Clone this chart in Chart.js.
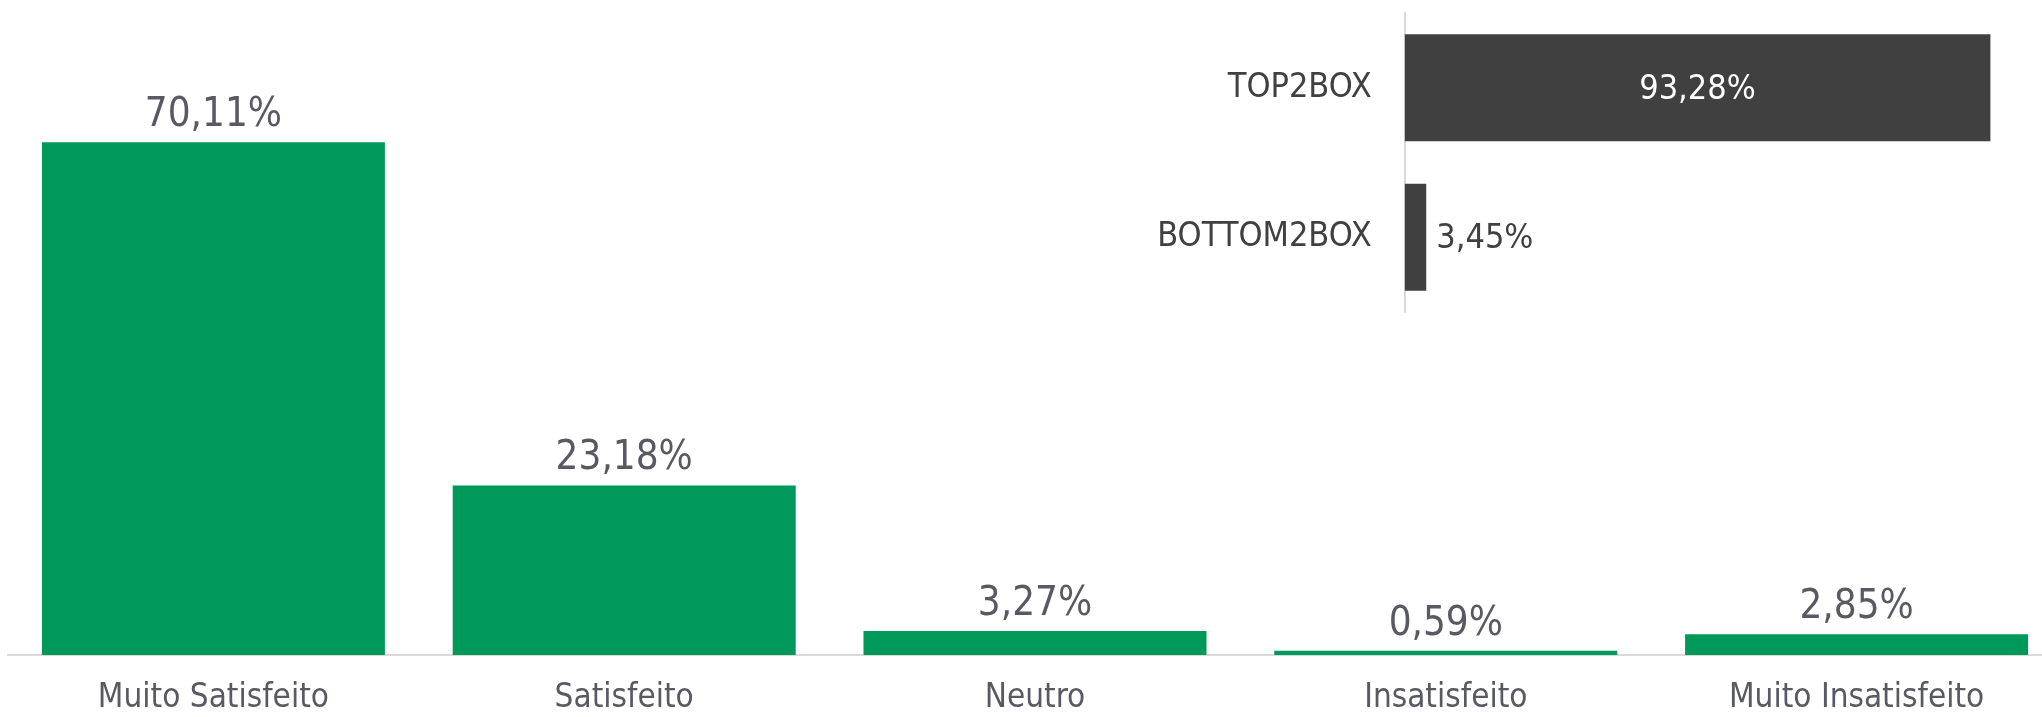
<!DOCTYPE html>
<html>
<head>
<meta charset="utf-8">
<script src="https://cdn.jsdelivr.net/npm/chart.js@4/dist/chart.umd.min.js"></script>
<style>
  html, body { margin: 0; padding: 0; background: #fff; overflow: hidden; }
  #wrap { position: relative; width: 2042px; height: 717px; overflow: hidden; }
  #mainChart { position: absolute; left: 0; top: 0; }
  #boxChart { position: absolute; left: 1100px; top: 0; }
</style>
</head>
<body>
<div id="wrap">
  <canvas id="mainChart" width="2064" height="717"></canvas>
  <canvas id="boxChart" width="942" height="330"></canvas>
</div>
<script>
const categories = ["Muito Satisfeito", "Satisfeito", "Neutro", "Insatisfeito", "Muito Insatisfeito"];
const shares = [70.11, 23.18, 3.27, 0.59, 2.85];

const boxLabels = ["TOP2BOX", "BOTTOM2BOX"];
const boxShares = [93.28, 3.45];

const FONT = "'DejaVu Sans Condensed', 'Liberation Sans Narrow', 'DejaVu Sans', sans-serif";
const greyText = "#595964";
const darkText = "#404040";

function formatPercent(value) {
  return value.toFixed(2).replace(".", ",") + "%";
}

// labels above the columns
const columnLabels = {
  id: "columnLabels",
  afterDatasetsDraw(chart) {
    const { ctx } = chart;
    const meta = chart.getDatasetMeta(0);
    ctx.save();
    ctx.font = "40px " + FONT;
    ctx.fillStyle = greyText;
    ctx.textAlign = "center";
    ctx.textBaseline = "alphabetic";
    meta.data.forEach((bar, i) => {
      ctx.fillText(formatPercent(shares[i]), bar.x, bar.y - 16);
    });
    ctx.restore();
  },
};

// labels for the TOP2BOX / BOTTOM2BOX bars
const boxValueLabels = {
  id: "boxValueLabels",
  afterDatasetsDraw(chart) {
    const { ctx } = chart;
    const meta = chart.getDatasetMeta(0);
    ctx.save();
    ctx.font = "34px " + FONT;
    ctx.textBaseline = "middle";
    meta.data.forEach((bar, i) => {
      const text = formatPercent(boxShares[i]);
      const barWidth = bar.x - bar.base;
      if (ctx.measureText(text).width + 20 < barWidth) {
        ctx.fillStyle = "#ffffff";
        ctx.textAlign = "center";
        ctx.fillText(text, (bar.x + bar.base) / 2, bar.y + 2);
      } else {
        ctx.fillStyle = darkText;
        ctx.textAlign = "left";
        ctx.fillText(text, bar.x + 10, bar.y + 2);
      }
    });
    ctx.restore();
  },
};

new Chart(document.getElementById("mainChart"), {
  type: "bar",
  data: {
    labels: categories,
    datasets: [
      {
        data: shares,
        backgroundColor: "#00995A",
        borderWidth: 0,
        categoryPercentage: 1,
        barPercentage: 0.835,
      },
    ],
  },
  options: {
    responsive: false,
    animation: false,
    events: [],
    layout: { padding: { left: 8, right: 2, top: 70, bottom: 0 } },
    plugins: { legend: { display: false }, tooltip: { enabled: false } },
    scales: {
      x: {
        grid: { display: false, drawTicks: false },
        border: { display: true, color: "#d9d9d9", width: 2 },
        ticks: {
          color: greyText,
          font: { family: FONT, size: 33 },
          padding: 24,
          maxRotation: 0,
          autoSkip: false,
        },
        afterFit(scale) {
          scale.height = 62;
          scale.paddingLeft = 0;
          scale.paddingRight = 0;
        },
      },
      y: {
        display: false,
        min: 0,
        max: 80,
      },
    },
  },
  plugins: [columnLabels],
});

new Chart(document.getElementById("boxChart"), {
  type: "bar",
  data: {
    labels: boxLabels,
    datasets: [
      {
        data: boxShares,
        backgroundColor: "#404040",
        borderWidth: 0,
        categoryPercentage: 1,
        barPercentage: 0.716,
      },
    ],
  },
  options: {
    indexAxis: "y",
    responsive: false,
    animation: false,
    events: [],
    layout: { padding: { left: 0, right: 9.4, top: 13, bottom: 18 } },
    plugins: { legend: { display: false }, tooltip: { enabled: false } },
    scales: {
      x: { display: false, min: 0, max: 100 },
      y: {
        grid: { display: false, drawTicks: false },
        border: { display: true, color: "#d9d9d9", width: 2 },
        ticks: {
          color: darkText,
          font: { family: FONT, size: 34 },
          padding: 33,
        },
        afterFit(scale) {
          scale.width = 304.6;
          scale.paddingTop = 0;
          scale.paddingBottom = 0;
        },
      },
    },
  },
  plugins: [boxValueLabels],
});
</script>
</body>
</html>
